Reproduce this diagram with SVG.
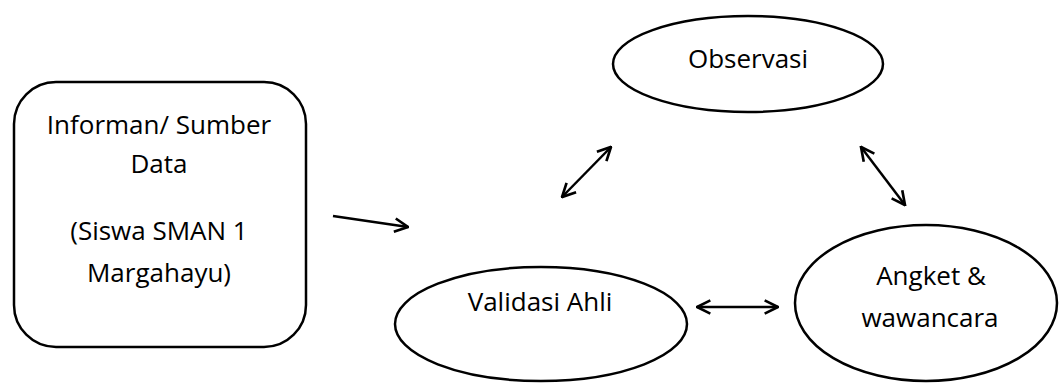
<svg xmlns="http://www.w3.org/2000/svg" width="1060" height="383" viewBox="0 0 1060 383">
<style>
.shape{fill:#fff;stroke:#000;stroke-width:2.5}
.lbl{font-family:"Open Sans","Liberation Sans",sans-serif;font-size:26px;fill:#000;text-anchor:middle}
.conn{stroke:#000;stroke-width:2.5;fill:none}
</style>
<defs>
<marker id="head" viewBox="0 0 12 12" refX="11" refY="6" markerWidth="16" markerHeight="16" markerUnits="userSpaceOnUse" orient="auto-start-reverse">
<path d="M1,1 L11,6 L1,11" fill="none" stroke="#000" stroke-width="2"/>
</marker>
</defs>
<rect width="1060" height="383" fill="#fff"/>
<g id="informan">
<rect class="shape" x="14" y="82" width="292" height="265" rx="42" ry="42"/>
<text class="lbl" x="159" y="134">Informan/ Sumber</text>
<text class="lbl" x="159" y="173">Data</text>
<text class="lbl" x="159" y="240">(Siswa SMAN 1</text>
<text class="lbl" x="159" y="282">Margahayu)</text>
</g>
<g id="observasi">
<ellipse class="shape" cx="748" cy="64" rx="135" ry="48"/>
<text class="lbl" x="748" y="68">Observasi</text>
</g>
<g id="validasi">
<ellipse class="shape" cx="541" cy="324" rx="146" ry="57"/>
<text class="lbl" x="540" y="311">Validasi Ahli</text>
</g>
<g id="angket">
<ellipse class="shape" cx="926" cy="303" rx="131" ry="78"/>
<text class="lbl" x="931" y="285">Angket &amp;</text>
<text class="lbl" x="930" y="327">wawancara</text>
</g>
<g id="connectors">
<line class="conn" x1="333" y1="216" x2="408" y2="227" marker-end="url(#head)"/>
<line class="conn" x1="562" y1="197" x2="611" y2="147" marker-start="url(#head)" marker-end="url(#head)"/>
<line class="conn" x1="861" y1="147" x2="905" y2="205" marker-start="url(#head)" marker-end="url(#head)"/>
<line class="conn" x1="697" y1="307" x2="778" y2="307" marker-start="url(#head)" marker-end="url(#head)"/>
</g>
</svg>
